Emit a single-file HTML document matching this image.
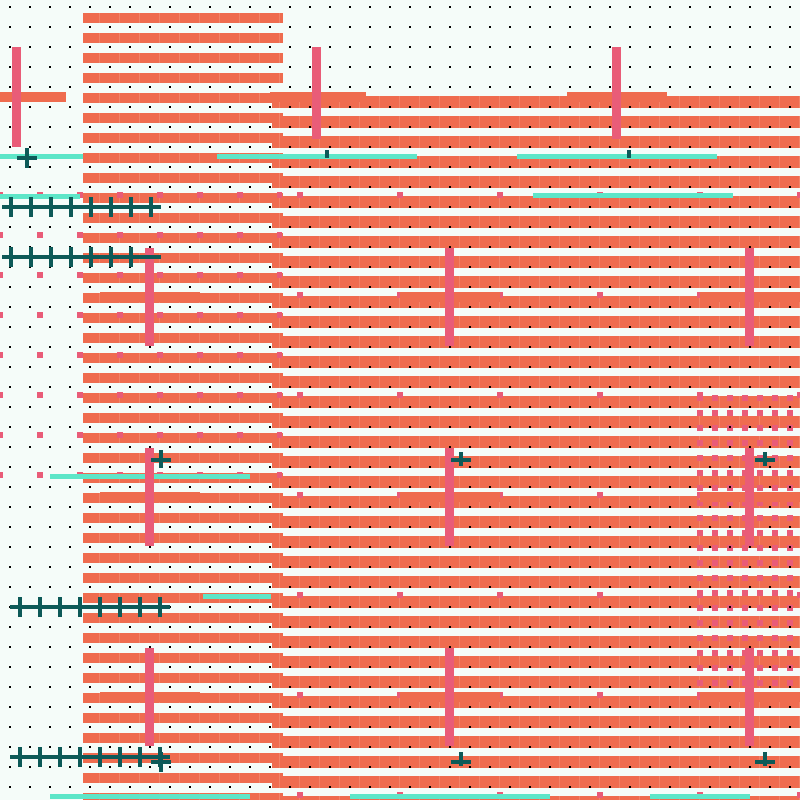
<!DOCTYPE html>
<html><head><meta charset="utf-8"><style>html,body{margin:0;padding:0;background:#f5fcf9}svg{display:block}</style></head>
<body>
<svg width="800" height="800" xmlns="http://www.w3.org/2000/svg">
<defs>
<pattern id="dots" x="0" y="0" width="20" height="20" patternUnits="userSpaceOnUse"><rect x="9" y="6" width="2" height="2" fill="#000"/></pattern>
<pattern id="ls" x="0" y="13" width="20" height="20" patternUnits="userSpaceOnUse"><rect x="0" y="0" width="20" height="10" fill="#ef6c4f"/><rect x="19.5" y="0" width="0.6" height="10" fill="#f59a80"/></pattern>
<pattern id="rs" x="0" y="96" width="20" height="20" patternUnits="userSpaceOnUse"><rect x="0" y="0" width="20" height="12" fill="#ef6c4f"/><rect x="19.5" y="0" width="0.6" height="12" fill="#f59a80"/></pattern>
<pattern id="pk" x="697" y="395" width="15" height="15" patternUnits="userSpaceOnUse"><rect x="0" y="0" width="6" height="6" fill="#e95c78"/></pattern>
<pattern id="pk2" x="-3" y="192" width="40" height="40" patternUnits="userSpaceOnUse"><rect x="0" y="0" width="6" height="6" fill="#e95c78"/></pattern>
<pattern id="pk3" x="297" y="192" width="100" height="100" patternUnits="userSpaceOnUse"><rect x="0" y="0" width="6" height="6" fill="#e95c78"/></pattern>
</defs>
<rect width="800" height="800" fill="#f5fcf9"/>
<rect x="83" y="13" width="200" height="787" fill="url(#ls)"/>
<rect x="272" y="96" width="528" height="704" fill="url(#rs)"/>
<rect x="0" y="190" width="282" height="290" fill="url(#pk2)"/>
<rect x="290" y="190" width="510" height="610" fill="url(#pk3)"/>
<rect x="697" y="395" width="103" height="305" fill="url(#pk)"/>
<rect width="800" height="800" fill="url(#dots)"/>
<g fill="#ef6c4f">
<rect x="0" y="92" width="66" height="10"/><rect x="270" y="92" width="96" height="10"/><rect x="567" y="92" width="100" height="10"/>
<rect x="100" y="292" width="100" height="10"/><rect x="400" y="292" width="100" height="10"/><rect x="700" y="292" width="100" height="10"/>
<rect x="100" y="492" width="100" height="10"/><rect x="400" y="492" width="100" height="10"/><rect x="700" y="492" width="100" height="10"/>
<rect x="100" y="692" width="100" height="10"/><rect x="400" y="692" width="100" height="10"/><rect x="700" y="692" width="100" height="10"/>
</g>
<g fill="#5de6c8">
<rect x="0" y="154" width="83" height="5"/><rect x="217" y="154" width="200" height="5"/><rect x="517" y="154" width="200" height="5"/>
<rect x="0" y="194" width="80" height="5"/><rect x="533" y="193" width="200" height="5"/>
<rect x="50" y="474" width="200" height="5"/><rect x="203" y="594" width="68" height="5"/>
<rect x="50" y="794" width="200" height="5"/><rect x="350" y="794" width="200" height="5"/><rect x="650" y="794" width="100" height="5"/>
</g>
<g fill="#e95c78">
<rect x="12" y="47" width="9" height="100"/><rect x="312" y="47" width="9" height="92"/><rect x="612" y="47" width="9" height="92"/>
<rect x="145" y="248" width="9" height="98"/><rect x="445" y="248" width="9" height="98"/><rect x="745" y="248" width="9" height="98"/>
<rect x="145" y="448" width="9" height="98"/><rect x="445" y="448" width="9" height="98"/><rect x="745" y="448" width="9" height="98"/>
<rect x="145" y="648" width="9" height="98"/><rect x="445" y="648" width="9" height="98"/><rect x="745" y="648" width="9" height="98"/>
</g>
<g fill="#0d5a58">
<rect x="2" y="205" width="159" height="4"/>
<rect x="9" y="197" width="4" height="20"/><rect x="29" y="197" width="4" height="20"/><rect x="49" y="197" width="4" height="20"/><rect x="69" y="197" width="4" height="20"/><rect x="89" y="197" width="4" height="20"/><rect x="109" y="197" width="4" height="20"/><rect x="129" y="197" width="4" height="20"/><rect x="149" y="197" width="4" height="20"/>
<rect x="2" y="255" width="159" height="4"/>
<rect x="9" y="247" width="4" height="20"/><rect x="29" y="247" width="4" height="20"/><rect x="49" y="247" width="4" height="20"/><rect x="69" y="247" width="4" height="20"/><rect x="89" y="247" width="4" height="20"/><rect x="109" y="247" width="4" height="20"/><rect x="129" y="247" width="4" height="20"/>
<rect x="10" y="605" width="160" height="4"/>
<rect x="18" y="597" width="4" height="20"/><rect x="38" y="597" width="4" height="20"/><rect x="58" y="597" width="4" height="20"/><rect x="78" y="597" width="4" height="20"/><rect x="98" y="597" width="4" height="20"/><rect x="118" y="597" width="4" height="20"/><rect x="138" y="597" width="4" height="20"/><rect x="158" y="597" width="4" height="20"/>
<rect x="10" y="755" width="160" height="4"/>
<rect x="18" y="747" width="4" height="20"/><rect x="38" y="747" width="4" height="20"/><rect x="58" y="747" width="4" height="20"/><rect x="78" y="747" width="4" height="20"/><rect x="98" y="747" width="4" height="20"/><rect x="118" y="747" width="4" height="20"/><rect x="138" y="747" width="4" height="20"/><rect x="158" y="747" width="4" height="20"/>
<rect x="17" y="156" width="20" height="4"/><rect x="25" y="148" width="4" height="20"/>
<rect x="151" y="458" width="20" height="4"/><rect x="159" y="450" width="4" height="18"/>
<rect x="451" y="458" width="20" height="4"/><rect x="459" y="452" width="4" height="14"/>
<rect x="755" y="458" width="20" height="4"/><rect x="763" y="452" width="4" height="14"/>
<rect x="151" y="760" width="20" height="4"/><rect x="159" y="752" width="4" height="20"/>
<rect x="451" y="760" width="20" height="4"/><rect x="459" y="752" width="4" height="14"/>
<rect x="755" y="760" width="20" height="4"/><rect x="763" y="752" width="4" height="14"/>
<rect x="325" y="150" width="4" height="8"/><rect x="627" y="150" width="4" height="8"/>
</g>
</svg>
</body></html>
